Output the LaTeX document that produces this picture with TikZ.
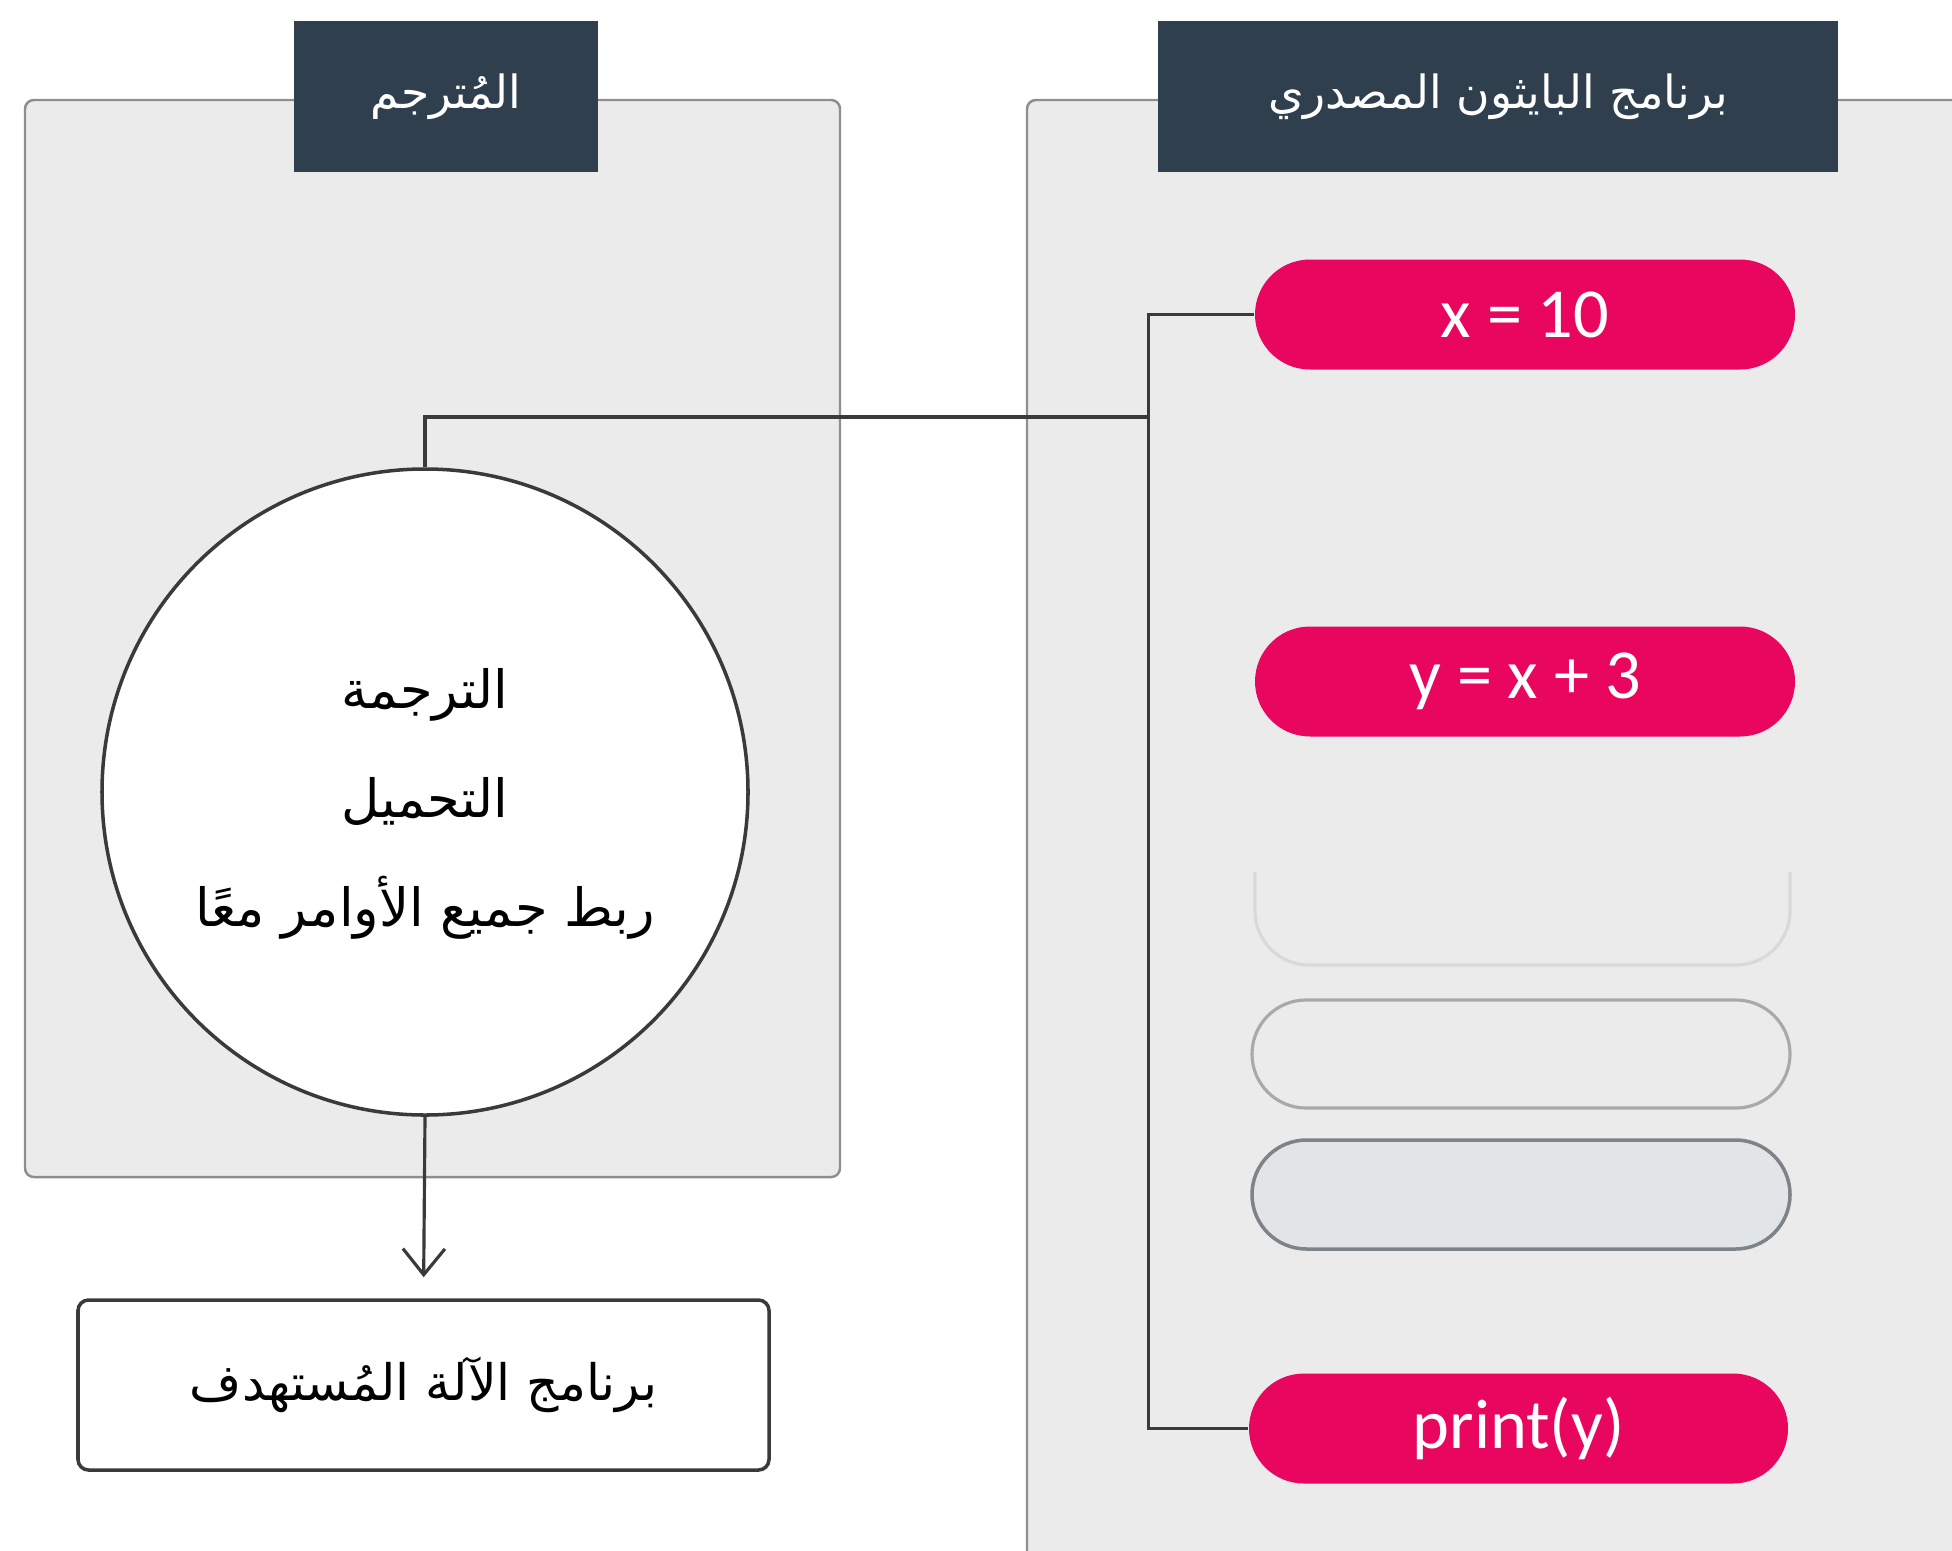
\documentclass[tikz,border=0pt]{standalone}
\usepackage{fontspec}
\setmainfont{Carlito}
\newfontfamily\arabicfont[Script=Arabic]{DejaVu Sans}
\TeXXeTstate=1
\usetikzlibrary{arrows.meta,shapes.misc}

\definecolor{headblue}{HTML}{2F3F4E}
\definecolor{panelgray}{HTML}{EBEBEB}
\definecolor{panelline}{HTML}{8E8E8E}
\definecolor{codepink}{HTML}{E8065F}
\definecolor{linkgray}{HTML}{3A3A3A}
\definecolor{slotline}{HTML}{A9A9A9}
\definecolor{slotfill}{HTML}{E2E5E8}
\definecolor{slotdark}{HTML}{7E8387}
\definecolor{slotfaint}{HTML}{D9D9D9}

\begin{document}
\begin{tikzpicture}[
    panel/.style={fill=panelgray,draw=panelline,line width=0.7pt,rounded corners=2.5pt},
    header/.style={fill=headblue,minimum height=1.51cm,inner sep=0pt,text=white,
      font=\arabicfont\fontsize{13}{15}\selectfont},
    pill/.style={rounded rectangle,minimum width=5.40cm,minimum height=1.10cm,inner sep=0pt},
    codepill/.style={pill,fill=codepink,text=white,font=\fontsize{20}{24}\selectfont},
    link/.style={draw=linkgray,line width=0.9pt}
  ]
  \useasboundingbox (0,0) rectangle (19.52,-15.50);
  \clip (0,0) rectangle (19.52,-15.50);
  % panels
  \filldraw[panel] (0.25,-1.00) rectangle (8.40,-11.77);
  \filldraw[panel] (10.27,-1.00) rectangle (20.50,-16.50);
  \node[header,minimum width=3.04cm] (trhead) at (4.46,-0.965) {\beginR المُترجم\endR};
  \node[header,minimum width=6.80cm] (srchead) at (14.98,-0.965) {\beginR برنامج البايثون المصدري\endR};
  % source lines
  \node[codepill] (xline) at (15.25,-3.145) {x = 10};
  \node[codepill] (yline) at (15.25,-6.815) {y = x + 3};
  \draw[slotfaint,line width=0.9pt] (12.55,-8.72) -- (12.55,-9.11)
    arc[start angle=180,end angle=270,radius=0.54] -- (17.36,-9.65)
    arc[start angle=270,end angle=360,radius=0.54] -- (17.90,-8.72);
  \node[pill,draw=slotline,line width=0.9pt,minimum width=5.38cm,minimum height=1.08cm] (slota) at (15.21,-10.54) {};
  \node[pill,draw=slotdark,fill=slotfill,line width=1pt,minimum width=5.38cm,minimum height=1.09cm] (slotb) at (15.21,-11.945) {};
  \node[codepill,minimum width=5.39cm] (pline) at (15.185,-14.285) {print(y)};
  % compiler
  \node[circle,draw=linkgray,fill=white,line width=1pt,minimum size=6.46cm,inner sep=0pt] (trans) at (4.25,-7.92) {};
  \node[align=center,font=\arabicfont\fontsize{15}{17}\selectfont] (steps) at ([yshift=-0.12cm]trans.center)
    {\beginR الترجمة\endR\\[0.49cm]\beginR التحميل\endR\\[0.49cm]\beginR ربط جميع الأوامر معًا\endR};
  \node[draw=linkgray,fill=white,line width=1pt,rounded corners=3pt,minimum width=6.91cm,minimum height=1.70cm,
    font=\arabicfont\fontsize{14.3}{16}\selectfont] (target) at (4.235,-13.85) {\beginR برنامج الآلة المُستهدف\endR};
  % connectors
  \coordinate (bus) at (11.49,-4.17);
  \draw[link] (xline.west) -- ++(-1.06,0) |- (pline.west);
  \draw[link] (trans.north) |- (bus);
  \draw[link,-{Straight Barb[length=2.6mm,width=4.2mm]},shorten >=0.21cm] (trans.south) -- (target.north);
\end{tikzpicture}
\end{document}
